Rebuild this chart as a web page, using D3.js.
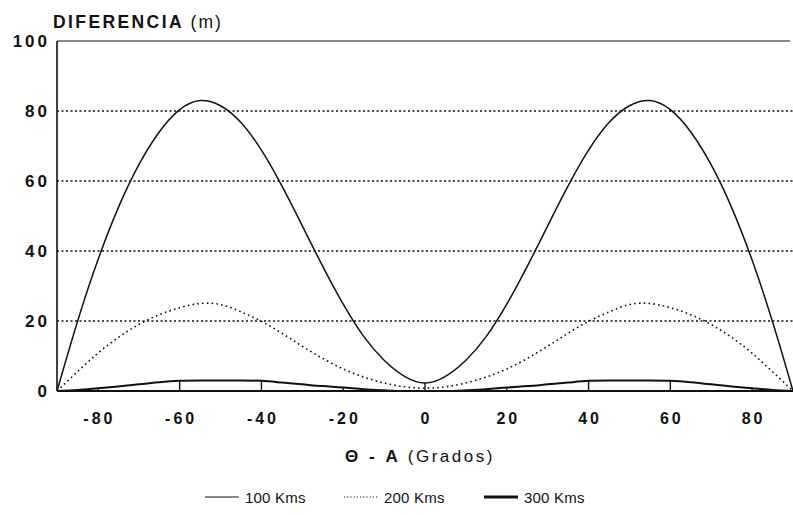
<!DOCTYPE html>
<html><head><meta charset="utf-8">
<script src="https://cdn.jsdelivr.net/npm/d3@7"></script>
<style>
body{margin:0;background:#fff;}
text{font-family:"Liberation Sans",Arial,sans-serif;fill:#111;}
</style></head>
<body><svg id="c" width="793" height="515"></svg>
<script>
const angles = [-90,-85,-80,-75,-70,-65,-60,-55,-50,-45,-40,-35,-30,-25,-20,-15,-10,-5,0,5,10,15,20,25,30,35,40,45,50,55,60,65,70,75,80,85,90];
const s100 = [0,19.8,37.4,52.4,64.6,74,80.4,83,81.5,76.7,68.8,58.6,47.2,35.6,24.8,15.6,8.8,4.2,2.3,4.2,8.8,15.6,24.8,35.6,47.2,58.6,68.8,76.7,81.5,83,80.4,74,64.6,52.4,37.4,19.8,0];
const s200 = [0,5.5,10.8,15.3,19,21.8,23.8,25,24.7,22.6,19.9,16.5,12.8,9.3,6.3,4.0,2.3,1.2,0.8,1.2,2.3,4.0,6.3,9.3,12.8,16.5,19.9,22.6,24.7,25,23.8,21.8,19,15.3,10.8,5.5,0];
const s300 = [0,0.3,0.8,1.3,1.9,2.5,2.9,3,3,3,2.9,2.4,1.9,1.4,1.0,0.5,0.2,0,0,0,0.2,0.5,1.0,1.4,1.9,2.4,2.9,3,3,3,2.9,2.5,1.9,1.3,0.8,0.3,0];
const seriesNames = ["100 Kms","200 Kms","300 Kms"];
const xTicks = [-80,-60,-40,-20,0,20,40,60,80];
const yTicks = [0,20,40,60,80,100];

const svg = d3.select("#c");
const x = d3.scaleLinear().domain([-90,90]).range([57,793]);
const y = d3.scaleLinear().domain([0,100]).range([391,41]);

// grid
svg.append("g").selectAll("line").data(yTicks.filter(v=>v>0 && v<100)).join("line")
  .attr("x1",57).attr("x2",793).attr("y1",d=>y(d)).attr("y2",d=>y(d))
  .attr("stroke","#111").attr("stroke-width",1.4).attr("stroke-dasharray","2,2.5");
// top line
svg.append("line").attr("x1",57).attr("x2",790).attr("y1",y(100)).attr("y2",y(100))
  .attr("stroke","#111").attr("stroke-width",1.2);
// left axis
svg.append("line").attr("x1",57).attr("x2",57).attr("y1",y(100)).attr("y2",y(0))
  .attr("stroke","#111").attr("stroke-width",1.6);
// bottom axis
svg.append("line").attr("x1",57).attr("x2",793).attr("y1",y(0)).attr("y2",y(0))
  .attr("stroke","#111").attr("stroke-width",1.8);

// y labels
svg.append("g").selectAll("text").data(yTicks).join("text")
  .attr("x",50).attr("y",d=>y(d)+6).attr("text-anchor","end")
  .attr("font-size",17).attr("font-weight","bold").attr("letter-spacing",3)
  .text(d=>d);
// x labels
svg.append("g").selectAll("text").data(xTicks).join("text")
  .attr("x",d=>x(d)+1.5).attr("y",424).attr("text-anchor","middle")
  .attr("font-size",16).attr("font-weight","bold").attr("letter-spacing",3)
  .text(d=>d);

// x ticks up to the lowest curve
const idx = a => angles.indexOf(a);
svg.append("g").selectAll("line").data(xTicks).join("line")
  .attr("x1",d=>x(d)).attr("x2",d=>x(d)).attr("y1",y(0))
  .attr("y2",d=>y(Math.max(s300[idx(d)], d===0 ? s100[idx(d)] : 0)))
  .attr("stroke","#111").attr("stroke-width",1.4);

// curves
const line = vals => d3.line().x((d,i)=>x(angles[i])).y(d=>y(d)).curve(d3.curveNatural)(vals);
svg.append("path").attr("d",line(s200)).attr("fill","none").attr("stroke","#111")
  .attr("stroke-width",1.6).attr("stroke-dasharray","1.6,3.2");
svg.append("path").attr("d",line(s100)).attr("fill","none").attr("stroke","#111").attr("stroke-width",1.5);
svg.append("path").attr("d",line(s300)).attr("fill","none").attr("stroke","#111").attr("stroke-width",2);

// titles
const yt = svg.append("text").attr("x",53).attr("y",28).attr("font-size",17.5);
yt.append("tspan").attr("font-weight","bold").attr("letter-spacing",2.4).text("DIFERENCIA ");
yt.append("tspan").attr("letter-spacing",2).text("(m)");
const xt = svg.append("text").attr("x",420).attr("y",462).attr("text-anchor","middle").attr("font-size",17);
xt.append("tspan").attr("font-weight","bold").attr("letter-spacing",3).text("\u0398 - A ");
xt.append("tspan").attr("letter-spacing",2.5).text("(Grados)");

// legend
const legX = [205,344,484];
const styles = [{w:1,da:null},{w:1.2,da:"1.2,2"},{w:3,da:null}];
seriesNames.forEach((n,i)=>{
  svg.append("line").attr("x1",legX[i]).attr("x2",legX[i]+34).attr("y1",497).attr("y2",497)
    .attr("stroke","#111").attr("stroke-width",styles[i].w).attr("stroke-dasharray",styles[i].da);
  svg.append("text").attr("x",legX[i]+40).attr("y",503).attr("font-size",15)
    .attr("letter-spacing",0.2).attr("fill","#222").text(n);
});
</script></body></html>
